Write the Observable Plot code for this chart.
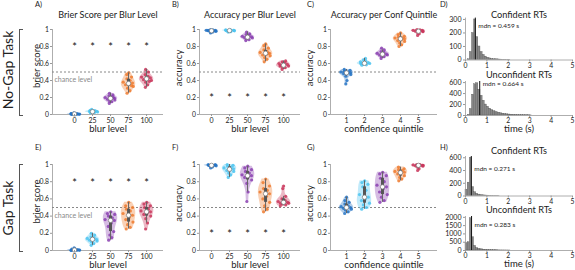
<!DOCTYPE html>
<html><head><meta charset="utf-8">
<script src="https://cdn.jsdelivr.net/npm/d3@7"></script>
<script src="https://cdn.jsdelivr.net/npm/@observablehq/plot@0.6"></script>
<style>
body{margin:0;background:#fff;font-family:Lato,"Open Sans",sans-serif;}
#root{position:relative;width:575px;height:270px;overflow:hidden;background:#fff}
.layer{position:absolute;left:0;top:0}
.letter{position:absolute;font-size:7.5px;color:#222;line-height:1}
.task{position:absolute;font-size:14px;color:#222;white-space:nowrap;transform:translate(-50%,-50%) rotate(-90deg);line-height:1}
.bracket{position:absolute;border:1px solid #555;border-right:none;width:3px}
</style></head>
<body><div id="root"></div>
<script>
// ---------- data ----------
const blurLevels = ["0","25","50","75","100"];
const quintiles = [1,2,3,4,5];
const catColors = ["#2473c4","#4cc4f0","#8a3fb0","#ee7a2e","#c9355a"];
const chanceLevel = 0.5;
const starBrier = 0.82;
const starAcc = 0.22;

const noGapBrier = [
  [0.000,0.002,0.004,0.005,0.006,0.008,0.010,0.012,0.015,0.018,0.003,0.007],
  [0.020,0.025,0.030,0.030,0.035,0.040,0.045,0.050,0.028,0.033,0.038,0.060],
  [0.13,0.15,0.16,0.17,0.18,0.19,0.19,0.20,0.21,0.22,0.23,0.25,0.18,0.20],
  [0.25,0.28,0.31,0.33,0.35,0.36,0.37,0.38,0.40,0.42,0.44,0.47,0.49,0.34],
  [0.32,0.35,0.38,0.40,0.41,0.42,0.43,0.44,0.45,0.47,0.50,0.53,0.42,0.39]
];
const noGapAcc = [
  [0.96,0.97,0.975,0.98,0.985,0.985,0.99,0.99,0.995,1.0,0.98,0.99],
  [0.97,0.975,0.98,0.985,0.985,0.99,0.99,0.995,1.0,0.98,0.99,0.99],
  [0.87,0.88,0.89,0.90,0.905,0.91,0.915,0.92,0.93,0.94,0.95,0.97,0.91],
  [0.62,0.65,0.67,0.69,0.70,0.71,0.72,0.73,0.74,0.76,0.78,0.81,0.83,0.72],
  [0.53,0.55,0.56,0.57,0.58,0.58,0.59,0.60,0.61,0.62,0.63,0.57]
];
const noGapQuint = [
  [0.36,0.40,0.45,0.47,0.48,0.49,0.49,0.50,0.50,0.51,0.52,0.53,0.48],
  [0.58,0.585,0.59,0.60,0.60,0.605,0.61,0.62,0.63,0.64,0.66,0.60],
  [0.66,0.68,0.69,0.70,0.70,0.71,0.71,0.72,0.73,0.74,0.76,0.78,0.72],
  [0.80,0.82,0.84,0.86,0.87,0.88,0.89,0.90,0.90,0.91,0.92,0.94,0.96],
  [0.93,0.95,0.965,0.975,0.98,0.985,0.99,0.99,0.995,1.0,0.98]
];
const gapBrier = [
  [0.000,0.002,0.004,0.005,0.006,0.008,0.010,0.015,0.020,0.030,0.005,0.003],
  [0.06,0.08,0.10,0.11,0.12,0.13,0.13,0.14,0.15,0.16,0.18,0.20,0.12],
  [0.12,0.15,0.18,0.22,0.28,0.32,0.35,0.36,0.38,0.40,0.42,0.43,0.45],
  [0.25,0.27,0.30,0.33,0.36,0.39,0.41,0.43,0.46,0.48,0.50,0.52,0.56],
  [0.25,0.32,0.37,0.40,0.42,0.44,0.45,0.46,0.48,0.50,0.52,0.54,0.56]
];
const gapAcc = [
  [0.96,0.97,0.98,0.985,0.99,0.99,0.995,1.0,0.985,0.99,0.995],
  [0.85,0.88,0.90,0.92,0.93,0.94,0.95,0.96,0.97,0.98,0.99,1.0],
  [0.57,0.68,0.78,0.82,0.85,0.86,0.87,0.88,0.90,0.92,0.94,0.96,0.98],
  [0.45,0.48,0.52,0.56,0.60,0.63,0.66,0.68,0.70,0.72,0.75,0.79,0.83],
  [0.52,0.53,0.54,0.55,0.55,0.56,0.56,0.57,0.58,0.60,0.63,0.72,0.75]
];
const gapQuint = [
  [0.43,0.45,0.47,0.48,0.49,0.50,0.50,0.51,0.52,0.54,0.56,0.58,0.62],
  [0.48,0.50,0.53,0.55,0.58,0.60,0.62,0.65,0.70,0.74,0.77,0.79,0.81],
  [0.56,0.58,0.62,0.65,0.68,0.72,0.74,0.76,0.80,0.84,0.87,0.89,0.91],
  [0.81,0.83,0.85,0.87,0.89,0.90,0.91,0.92,0.93,0.94,0.95,0.97],
  [0.93,0.95,0.97,0.98,0.985,0.99,0.99,0.995,1.0,1.0,0.99]
];

// RT histograms: counts per 0.1 s bin, starting at 0 s
const rtBinWidth = 0.1;
const noGapConfCounts = [0,5,60,200,300,170,100,60,38,25,17,12,8,6,5,4,3,2,2,1,1];
const noGapUnconfCounts = [0,10,120,380,570,590,470,360,270,200,160,125,100,80,65,52,42,34,28,22,18,14,11,9,7,6,5,4,3,3,2];
const gapConfCounts = [100,210,600,140,60,35,22,15,10,8,6,4,3,2,2,1];
const gapUnconfCounts = [450,500,1950,800,280,150,100,70,50,38,28,22,17,13,10,8,6,5,4,3,2];
const rtMedians = [0.459, 0.664, 0.271, 0.283];

// ---------- helpers ----------
const FONT = 'Lato, "Open Sans", sans-serif';
const root = document.getElementById("root");
const W = 0.4;
const jit = [-0.7,0.4,-0.2,0.85,-0.5,0.15,0.65,-0.9,0.3,-0.35,0.75,-0.6,0.05,0.5];

function buildViolin(groups, xs) {
  const area = [], pts = [], stats = [];
  groups.forEach((vals, i) => {
    const x = xs[i];
    const s = vals.slice().sort(d3.ascending);
    const n = s.length;
    const sd = d3.deviation(s) || 0.005;
    const bw = Math.max(1.06 * sd * Math.pow(n, -0.2), 0.003);
    const kde = y => d3.sum(s, v => Math.exp(-0.5 * ((y - v) / bw) ** 2));
    const lo = s[0], hi = s[n - 1];
    const steps = 40;
    const ys = d3.range(steps + 1).map(k => lo + (hi - lo) * k / steps);
    const ds = ys.map(kde);
    const m = d3.max(ds);
    ys.forEach((y, k) => area.push({g: i, y, x1: x - ds[k] / m * W, x2: x + ds[k] / m * W}));
    vals.forEach((v, j) => pts.push({g: i, y: v, x: x + jit[j % jit.length] * kde(v) / m * W * 0.85}));
    const q1 = d3.quantile(s, 0.25), q3 = d3.quantile(s, 0.75), med = d3.median(s);
    const iqr = q3 - q1;
    const wlo = d3.min(s.filter(v => v >= q1 - 1.5 * iqr));
    const whi = d3.max(s.filter(v => v <= q3 + 1.5 * iqr));
    stats.push({x, q1, q3, med, wlo, whi});
  });
  return {area, pts, stats};
}

function frameOpts(L, R, T, B) {
  return {width: 575, height: 270, marginLeft: L, marginRight: 575 - R, marginTop: T, marginBottom: 270 - B,
    style: {background: "transparent", overflow: "visible", fontFamily: FONT, color: "#222"}};
}

function addLayer(el) {
  const d = document.createElement("div");
  d.className = "layer";
  d.appendChild(el);
  root.appendChild(d);
}

function violinPanel(cfg) {
  const xs = cfg.quint ? quintiles : d3.range(5);
  const {area, pts, stats} = buildViolin(cfg.groups, xs);
  const marks = [
    Plot.ruleY([0], {stroke: "#999", strokeWidth: 0.8}),
    Plot.ruleX([cfg.xd[0]], {stroke: "#999", strokeWidth: 0.8}),
    Plot.ruleY([chanceLevel], {stroke: "#888", strokeDasharray: "2,2", strokeWidth: 1}),
    Plot.areaX(area, {y: "y", x1: "x1", x2: "x2", z: "g", fill: "g", fillOpacity: 0.35}),
    Plot.dot(pts, {x: "x", y: "y", fill: "g", r: 1.6, fillOpacity: 0.85}),
    Plot.ruleX(stats, {x: "x", y1: "wlo", y2: "whi", stroke: "#666", strokeWidth: 1}),
    Plot.ruleX(stats, {x: "x", y1: "q1", y2: "q3", stroke: "#555", strokeWidth: 3}),
    Plot.dot(stats, {x: "x", y: "med", r: 2.2, fill: "white", stroke: "#777", strokeWidth: 0.7}),
    Plot.axisX({ticks: xs, tickFormat: d => cfg.quint ? String(d) : blurLevels[d], tickSize: 2, tickPadding: 1.5, fontSize: 7, stroke: "#999", label: null}),
    Plot.axisY({ticks: [0, 0.2, 0.4, 0.6, 0.8, 1], tickFormat: d => String(+d.toFixed(1)), tickSize: 2, tickPadding: 1.5, fontSize: 6.8, stroke: "#999", label: null}),
    Plot.text([cfg.ylabel], {frameAnchor: "left", rotate: -90, dx: cfg.ylDx, dy: cfg.ylDy, textAnchor: "middle", lineAnchor: "middle", fontSize: 9.5}),
    Plot.text([cfg.xlabel], {frameAnchor: "bottom", dy: 14.5, lineAnchor: "middle", fontSize: 9.5})
  ];
  if (cfg.star != null) marks.push(Plot.text(xs, {x: d => d, y: () => cfg.star, text: () => "*", fontSize: 11, dy: 3, lineAnchor: "middle", fill: "#111"}));
  if (cfg.chance) marks.push(Plot.text(["chance level"], {frameAnchor: "left", y: () => chanceLevel, dx: 2, dy: 8, textAnchor: "start", lineAnchor: "middle", fontSize: 7, fill: "#888"}));
  if (cfg.title) marks.push(Plot.text([cfg.title], {frameAnchor: "top", dy: -14, lineAnchor: "middle", fontSize: 9}));
  addLayer(Plot.plot({
    ...frameOpts(cfg.L, cfg.R, cfg.T, cfg.B),
    x: {domain: cfg.xd}, y: {domain: [0, 1]},
    color: {domain: [0, 1, 2, 3, 4], range: catColors},
    marks
  }));
}

function histPanel(cfg) {
  const bins = cfg.counts.map((c, i) => ({x1: i * rtBinWidth, x2: (i + 1) * rtBinWidth, c}));
  const marks = [
    Plot.rectY(bins, {x1: "x1", x2: "x2", y: "c", fill: "#878787", stroke: "#4a4a4a", strokeWidth: 0.3}),
    Plot.ruleX([cfg.median], {stroke: "#111", strokeWidth: 1}),
    Plot.ruleY([0], {stroke: "#999", strokeWidth: 0.8}),
    Plot.ruleX([0], {stroke: "#999", strokeWidth: 0.8}),
    Plot.axisX({ticks: [0, 1, 2, 3, 4, 5], tickFormat: d => String(d), tickSize: 2, tickPadding: 1, fontSize: 6.8, stroke: "#999", label: null}),
    Plot.axisY({ticks: cfg.yticks, tickFormat: d => String(d), tickSize: 2, tickPadding: 2, fontSize: 7, stroke: "#999", label: null}),
    Plot.text([cfg.title], {frameAnchor: "top", dy: cfg.titleDy, lineAnchor: "middle", fontSize: 9.2}),
    Plot.text([cfg.median], {x: d => d, frameAnchor: "top", text: d => `mdn = ${d} s`, dx: 3, dy: cfg.mdnDy, textAnchor: "start", lineAnchor: "middle", fontSize: 6.5})
  ];
  if (cfg.xlabel) marks.push(Plot.text([cfg.xlabel], {frameAnchor: "bottom", dy: 13.5, lineAnchor: "middle", fontSize: 9.5}));
  addLayer(Plot.plot({
    ...frameOpts(465, 572, cfg.T, cfg.B),
    x: {domain: [0, 5]}, y: {domain: cfg.yd},
    marks
  }));
}

// ---------- panels ----------
const blurXd = [-1.22, 4.94], accXd = [-0.667, 4.94], quintXd = [0.11, 6.06];
violinPanel({groups: noGapBrier, xd: blurXd, L: 52, R: 163, T: 29, B: 114, ylabel: "brier score", ylDx: -16, ylDy: -6, xlabel: "blur level", star: starBrier, chance: true, title: "Brier Score per Blur Level"});
violinPanel({groups: noGapAcc, xd: accXd, L: 199, R: 300, T: 29, B: 114, ylabel: "accuracy", ylDx: -21, ylDy: -4, xlabel: "blur level", star: starAcc, title: "Accuracy per Blur Level"});
violinPanel({groups: noGapQuint, quint: true, xd: quintXd, L: 330, R: 437, T: 29, B: 114, ylabel: "accuracy", ylDx: -21, ylDy: -4, xlabel: "confidence quintile", title: "Accuracy per Conf Quintile"});
violinPanel({groups: gapBrier, xd: blurXd, L: 52, R: 163, T: 164, B: 250, ylabel: "brier score", ylDx: -16, ylDy: -6, xlabel: "blur level", star: starBrier, chance: true});
violinPanel({groups: gapAcc, xd: accXd, L: 199, R: 300, T: 164, B: 250, ylabel: "accuracy", ylDx: -21, ylDy: -4, xlabel: "blur level", star: starAcc});
violinPanel({groups: gapQuint, quint: true, xd: quintXd, L: 330, R: 437, T: 164, B: 250, ylabel: "accuracy", ylDx: -21, ylDy: -4, xlabel: "confidence quintile"});

histPanel({counts: noGapConfCounts, median: rtMedians[0], T: 17.6, B: 59.5, yd: [0, 310], yticks: [0, 100, 200, 300], title: "Confident RTs", titleDy: -3.5, mdnDy: 7.5});
histPanel({counts: noGapUnconfCounts, median: rtMedians[1], T: 81, B: 115, yd: [0, 620], yticks: [0, 200, 400, 600], title: "Unconfident RTs", titleDy: -6, mdnDy: 2.5, xlabel: "time (s)"});
histPanel({counts: gapConfCounts, median: rtMedians[2], T: 156, B: 195.5, yd: [0, 620], yticks: [0, 200, 400, 600], title: "Confident RTs", titleDy: -5.5, mdnDy: 12});
histPanel({counts: gapUnconfCounts, median: rtMedians[3], T: 216, B: 250, yd: [0, 2050], yticks: [0, 500, 1000, 1500, 2000], title: "Unconfident RTs", titleDy: -6, mdnDy: 8, xlabel: "time (s)"});

// ---------- annotations ----------
function addDiv(cls, text, css) {
  const d = document.createElement("div");
  d.className = cls;
  if (text) d.textContent = text;
  Object.assign(d.style, css);
  root.appendChild(d);
}
[["A)",35,1],["B)",172,1],["C)",307,1],["D)",440,1],["E)",35,144],["F)",172,144],["G)",307,144],["H)",440,144]]
  .forEach(([t,x,y]) => addDiv("letter", t, {left: x + "px", top: y + "px"}));
addDiv("task", "No-Gap Task", {left: "8px", top: "70px"});
addDiv("task", "Gap Task", {left: "8px", top: "208px"});
addDiv("bracket", "", {left: "19px", top: "29px", height: "85px"});
addDiv("bracket", "", {left: "19px", top: "164px", height: "86px"});
</script>
</body></html>
